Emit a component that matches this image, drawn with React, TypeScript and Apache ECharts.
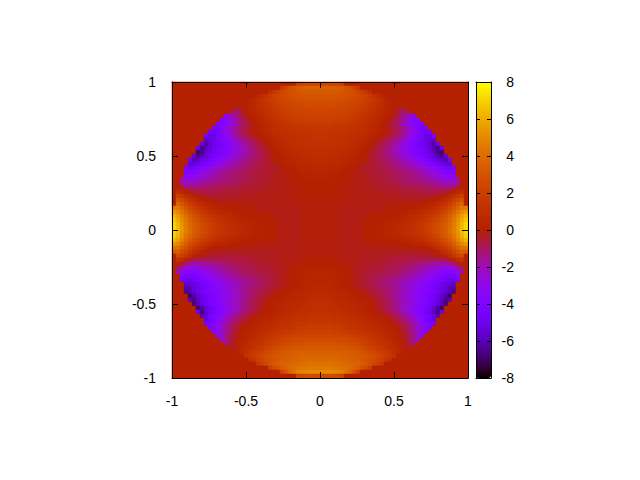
import React, { useEffect, useRef } from "react";
import * as echarts from "echarts";

// Each row runs from the circle's edge to the centre column; cells further out are 0.
// Top half, from the top of the plot down to the equator.
const TOP_ROWS: number[][] = [
[2.0,2.2,2.3,2.3,2.3,2.3],
[1.6,2.2,2.8,3.1,3.3,3.4,3.5,3.6,3.6,3.6],
[1.0,1.5,2.0,2.4,2.7,2.9,3.0,3.1,3.2,3.3,3.3,3.3,3.3],
[.5,.9,1.3,1.7,2.0,2.3,2.5,2.7,2.8,2.9,3.0,3.0,3.1,3.1,3.1,3.1],
[.2,.5,.9,1.2,1.5,1.8,2.0,2.2,2.4,2.5,2.6,2.7,2.8,2.8,2.9,2.9,2.9,2.9],
[0,.2,.5,.8,1.1,1.4,1.6,1.8,2.0,2.2,2.3,2.4,2.5,2.6,2.6,2.7,2.7,2.7,2.7],
[-.5,-.2,.1,.3,.5,.8,1.0,1.3,1.5,1.7,1.9,2.0,2.1,2.2,2.3,2.4,2.4,2.5,2.5,2.5,2.5],
[-1.4,-.9,-.5,-.1,.2,.4,.6,.9,1.1,1.3,1.5,1.7,1.8,2.0,2.1,2.2,2.2,2.3,2.3,2.3,2.4,2.4],
[-3.5,-2.4,-1.8,-1.2,-.7,-.3,0,.3,.5,.7,.9,1.1,1.3,1.5,1.7,1.8,1.9,2.0,2.1,2.1,2.2,2.2,2.2,2.2],
[-4.0,-3.5,-2.8,-2.1,-1.5,-1.0,-.5,-.2,.1,.3,.6,.8,1.0,1.2,1.3,1.5,1.6,1.8,1.9,1.9,2.0,2.0,2.0,2.1,2.1],
[-4.2,-4.0,-3.6,-3.0,-2.4,-1.8,-1.2,-.8,-.4,-.1,.2,.4,.6,.8,1.0,1.2,1.4,1.5,1.6,1.7,1.7,1.7,1.7,1.8,1.8,1.8],
[-4.3,-4.2,-3.7,-3.0,-2.4,-1.8,-1.3,-.9,-.6,-.3,-.1,.1,.3,.5,.7,.9,1.0,1.1,1.2,1.3,1.4,1.4,1.5,1.5,1.6,1.6,1.6],
[-4.5,-4.8,-4.5,-3.8,-3.2,-2.5,-1.8,-1.3,-.9,-.6,-.3,-.1,.1,.3,.5,.7,.9,1.0,1.1,1.2,1.2,1.3,1.3,1.4,1.4,1.4,1.5,1.5],
[-4.2,-5.2,-5.0,-4.5,-4.0,-3.4,-2.8,-2.1,-1.6,-1.2,-.9,-.6,-.3,-.1,.1,.3,.5,.7,.8,.9,1.0,1.1,1.2,1.2,1.3,1.3,1.3,1.4,1.4],
[-5.6,-5.4,-5.0,-4.5,-4.0,-3.5,-2.9,-2.4,-1.9,-1.5,-1.2,-.9,-.6,-.4,-.2,0,.2,.4,.6,.7,.8,.9,1.0,1.1,1.1,1.2,1.2,1.3,1.3],
[-5.2,-6.2,-5.6,-5.0,-4.6,-4.3,-3.9,-3.5,-3.0,-2.6,-2.1,-1.7,-1.3,-1.0,-.7,-.4,-.2,.1,.3,.5,.6,.8,.9,1.0,1.1,1.1,1.2,1.2,1.2,1.2],
[-5.0,-6.6,-6.0,-5.4,-4.9,-4.5,-4.2,-3.8,-3.4,-3.0,-2.6,-2.2,-1.8,-1.4,-1.1,-.8,-.6,-.3,-.1,.1,.3,.5,.7,.8,.9,1.0,1.0,1.1,1.1,1.1,1.1],
[-6.9,-6.4,-5.8,-5.2,-4.8,-4.4,-4.1,-3.7,-3.3,-2.9,-2.5,-2.2,-1.8,-1.5,-1.2,-.9,-.7,-.5,-.2,0,.2,.4,.5,.7,.8,.8,.9,.9,1.0,1.0,1.0],
[-5.5,-6.6,-6.0,-5.4,-4.9,-4.5,-4.2,-3.9,-3.5,-3.1,-2.7,-2.4,-2.1,-1.8,-1.5,-1.2,-1.0,-.8,-.6,-.3,-.1,.1,.3,.4,.5,.6,.7,.8,.8,.8,.9,.9],
[-4.6,-6.0,-5.8,-5.3,-4.9,-4.4,-4.0,-3.6,-3.2,-2.9,-2.5,-2.2,-1.9,-1.7,-1.4,-1.2,-1.0,-.8,-.7,-.5,-.3,-.2,0,.2,.3,.4,.5,.6,.7,.7,.7,.8,.8],
[-5.4,-5.3,-5.0,-4.6,-4.2,-3.8,-3.4,-3.0,-2.7,-2.4,-2.1,-1.9,-1.7,-1.5,-1.3,-1.1,-.9,-.8,-.7,-.5,-.4,-.2,-.1,.1,.2,.3,.4,.5,.6,.6,.6,.7,.7],
[-4.2,-4.7,-4.6,-4.2,-3.8,-3.4,-3.0,-2.7,-2.4,-2.1,-1.9,-1.7,-1.5,-1.4,-1.2,-1.1,-1.0,-.8,-.7,-.6,-.5,-.5,-.4,-.3,-.1,0,.1,.2,.3,.4,.5,.5,.6,.6],
[-4.0,-4.0,-3.8,-3.5,-3.1,-2.8,-2.5,-2.2,-2.0,-1.8,-1.6,-1.4,-1.3,-1.2,-1.0,-.9,-.8,-.7,-.6,-.5,-.5,-.4,-.4,-.3,-.2,-.1,0,.1,.2,.3,.3,.4,.4,.4],
[-3.5,-3.4,-3.2,-2.9,-2.6,-2.3,-2.1,-1.8,-1.6,-1.5,-1.3,-1.2,-1.1,-1.0,-.9,-.8,-.7,-.6,-.5,-.5,-.4,-.4,-.3,-.3,-.2,-.1,-.1,0,.1,.2,.2,.3,.3,.3],
[-2.3,-2.8,-2.7,-2.6,-2.4,-2.2,-2.0,-1.8,-1.6,-1.5,-1.4,-1.3,-1.2,-1.1,-1.0,-.9,-.8,-.7,-.6,-.5,-.5,-.4,-.3,-.3,-.2,-.2,-.1,-.1,0,0,.1,.1,.2,.2,.2],
[-1.4,-1.9,-2.0,-2.0,-1.8,-1.7,-1.5,-1.4,-1.3,-1.2,-1.1,-1.0,-1.0,-.9,-.8,-.7,-.7,-.6,-.5,-.5,-.4,-.4,-.3,-.3,-.2,-.2,-.2,-.1,-.1,0,0,0,.1,.1,.1],
[.1,-.4,-.9,-1.1,-1.2,-1.2,-1.1,-1.0,-.9,-.9,-.8,-.8,-.7,-.7,-.7,-.6,-.6,-.5,-.5,-.4,-.4,-.4,-.3,-.3,-.3,-.2,-.2,-.2,-.1,-.1,-.1,0,0,0,0,.1],
[.9,.6,.2,-.2,-.5,-.7,-.7,-.7,-.7,-.7,-.6,-.6,-.6,-.5,-.5,-.5,-.4,-.4,-.4,-.3,-.3,-.3,-.3,-.2,-.2,-.2,-.2,-.1,-.1,-.1,-.1,0,0,0,0,0],
[2.0,1.6,1.1,.6,.2,-.1,-.3,-.4,-.4,-.4,-.4,-.4,-.4,-.4,-.4,-.4,-.3,-.3,-.3,-.3,-.2,-.2,-.2,-.2,-.2,-.2,-.2,-.1,-.1,-.1,-.1,-.1,-.1,0,0,0],
[2.9,2.4,1.8,1.3,.9,.5,.2,0,-.1,-.2,-.3,-.3,-.3,-.3,-.2,-.2,-.2,-.2,-.2,-.2,-.2,-.2,-.2,-.2,-.2,-.2,-.2,-.2,-.1,-.1,-.1,-.1,-.1,-.1,-.1,-.1],
[3.7,3.2,2.5,1.9,1.5,1.1,.8,.5,.3,.1,0,-.1,-.1,-.1,-.1,-.1,-.1,-.1,-.1,-.1,-.2,-.2,-.2,-.2,-.2,-.2,-.2,-.2,-.2,-.2,-.1,-.1,-.1,-.1,-.1,-.1],
[4.4,4.4,3.8,3.1,2.5,2.0,1.6,1.3,1.0,.7,.5,.3,.2,.1,0,0,-.1,-.1,-.1,-.1,-.2,-.2,-.2,-.2,-.2,-.2,-.2,-.2,-.2,-.2,-.2,-.2,-.1,-.1,-.1,-.1,-.1],
[5.4,5.0,4.3,3.6,3.0,2.5,2.1,1.7,1.4,1.1,.9,.7,.5,.4,.3,.2,.1,.1,0,0,0,-.1,-.1,-.1,-.1,-.2,-.2,-.2,-.2,-.2,-.2,-.2,-.1,-.1,-.1,-.1,-.1],
[6.2,5.6,4.8,4.1,3.4,2.9,2.5,2.1,1.8,1.5,1.2,1.0,.9,.7,.6,.4,.3,.2,.2,.1,.1,0,0,0,-.1,-.2,-.2,-.2,-.2,-.2,-.2,-.2,-.1,-.1,-.1,-.1,-.1],
[6.7,6.0,5.1,4.4,3.7,3.2,2.8,2.4,2.1,1.8,1.5,1.3,1.1,.9,.8,.6,.5,.4,.3,.2,.2,.1,.1,0,0,-.1,-.2,-.2,-.2,-.2,-.2,-.2,-.1,-.1,-.1,-.1,-.1],
[7.0,6.3,5.3,4.5,3.9,3.4,3.0,2.6,2.3,2.0,1.7,1.5,1.3,1.1,.9,.8,.7,.5,.4,.3,.2,.2,.1,.1,0,0,-.1,-.2,-.2,-.2,-.2,-.2,-.1,-.1,-.1,-.1,-.1],
[7.1,6.4,5.4,4.6,4.0,3.5,3.1,2.7,2.4,2.1,1.8,1.6,1.4,1.2,1.0,.9,.8,.6,.5,.4,.3,.2,.2,.1,0,0,-.1,-.2,-.2,-.2,-.2,-.2,-.1,-.1,-.1,-.1,-.1],
];

// Bottom half, from the equator down to the bottom of the plot.
const BOTTOM_ROWS: number[][] = [
[7.1,6.4,5.4,4.6,4.0,3.5,3.1,2.7,2.4,2.1,1.8,1.6,1.4,1.2,1.0,.9,.8,.6,.5,.4,.3,.2,.2,.1,0,0,-.1,-.2,-.2,-.2,-.2,-.2,-.1,-.1,-.1,-.1,-.1],
[6.9,6.2,5.2,4.4,3.8,3.3,2.9,2.5,2.2,1.9,1.6,1.4,1.2,1.0,.9,.8,.6,.5,.4,.3,.2,.2,.1,.1,0,0,-.1,-.2,-.2,-.2,-.2,-.2,-.1,-.1,-.1,-.1,-.1],
[6.3,5.7,4.8,4.0,3.4,2.9,2.5,2.1,1.8,1.5,1.2,1.0,.9,.7,.6,.4,.3,.2,.2,.1,.1,0,0,0,-.1,-.1,-.2,-.2,-.2,-.2,-.2,-.2,-.1,-.1,-.1,-.1,-.1],
[5.4,5.0,4.2,3.5,2.9,2.4,2.0,1.6,1.2,.9,.7,.5,.4,.3,.2,.1,.1,0,0,0,-.1,-.1,-.1,-.1,-.1,-.2,-.2,-.2,-.2,-.2,-.2,-.2,-.1,-.1,-.1,-.1,-.1],
[4.2,4.2,3.5,2.9,2.3,1.8,1.3,1.0,.6,.3,.1,0,0,-.1,-.1,-.1,-.1,-.2,-.2,-.2,-.2,-.2,-.2,-.2,-.2,-.2,-.2,-.2,-.2,-.2,-.2,-.2,-.1,-.1,-.1,-.1,-.1],
[3.2,3.4,2.8,2.2,1.6,1.1,.7,.3,.1,-.1,-.2,-.2,-.3,-.3,-.3,-.3,-.3,-.3,-.3,-.3,-.3,-.3,-.3,-.3,-.3,-.3,-.2,-.2,-.2,-.2,-.2,-.2,-.2,-.2,-.1,-.1,-.1],
[2.5,2.1,1.5,.9,.4,.1,-.2,-.3,-.4,-.5,-.5,-.5,-.5,-.5,-.5,-.5,-.4,-.4,-.4,-.4,-.3,-.3,-.3,-.3,-.3,-.3,-.2,-.2,-.2,-.2,-.2,-.1,-.1,-.1,-.1,-.1],
[1.3,.9,.3,-.3,-.8,-.9,-.9,-.9,-.9,-.9,-.8,-.8,-.8,-.7,-.7,-.7,-.6,-.6,-.5,-.5,-.4,-.4,-.4,-.3,-.3,-.3,-.3,-.2,-.2,-.2,-.2,-.1,-.1,0,0,0],
[.3,-.4,-1.2,-1.7,-1.8,-1.8,-1.7,-1.6,-1.5,-1.4,-1.3,-1.2,-1.1,-1.0,-.9,-.8,-.8,-.7,-.7,-.6,-.5,-.5,-.4,-.4,-.3,-.3,-.3,-.2,-.2,-.2,-.1,0,0,.1,.1,.1],
[-.8,-1.6,-2.4,-2.8,-2.9,-2.8,-2.6,-2.4,-2.2,-2.0,-1.8,-1.6,-1.4,-1.3,-1.1,-1.0,-.9,-.8,-.8,-.7,-.6,-.5,-.5,-.4,-.4,-.3,-.3,-.2,-.1,0,.1,.1,.2,.2,.2,.2],
[-2.0,-2.9,-3.5,-3.8,-3.7,-3.4,-3.1,-2.8,-2.6,-2.3,-2.1,-1.9,-1.7,-1.5,-1.3,-1.2,-1.0,-.9,-.8,-.8,-.7,-.6,-.6,-.5,-.4,-.4,-.3,-.2,-.1,.1,.2,.2,.3,.3,.3,.3],
[-3.6,-4.3,-4.4,-4.3,-4.0,-3.7,-3.4,-3.1,-2.9,-2.6,-2.4,-2.1,-1.9,-1.7,-1.5,-1.3,-1.2,-1.1,-1.0,-.9,-.8,-.7,-.6,-.5,-.4,-.3,-.2,-.1,0,.1,.2,.3,.3,.4,.4],
[-4.6,-5.0,-4.9,-4.6,-4.3,-4.0,-3.7,-3.4,-3.1,-2.9,-2.6,-2.4,-2.1,-1.9,-1.7,-1.5,-1.4,-1.2,-1.1,-1.0,-.9,-.7,-.6,-.5,-.4,-.3,-.2,-.1,0,.1,.2,.3,.4,.4,.4],
[-5.6,-5.5,-5.2,-4.8,-4.5,-4.2,-3.8,-3.5,-3.3,-3.0,-2.7,-2.5,-2.3,-2.0,-1.8,-1.6,-1.5,-1.3,-1.2,-1.0,-.9,-.7,-.6,-.4,-.3,-.2,-.1,0,.1,.2,.3,.4,.5,.5],
[-6.2,-5.9,-5.4,-5.0,-4.7,-4.3,-4.0,-3.7,-3.4,-3.1,-2.8,-2.6,-2.3,-2.0,-1.7,-1.4,-1.2,-1.0,-.9,-.8,-.7,-.6,-.5,-.3,-.2,-.1,0,.1,.2,.3,.4,.5,.6,.6],
[-6.6,-6.1,-5.5,-5.0,-4.7,-4.3,-4.0,-3.7,-3.4,-3.1,-2.8,-2.6,-2.3,-2.0,-1.7,-1.4,-1.2,-1.0,-.9,-.7,-.5,-.4,-.2,-.1,0,.1,.2,.3,.4,.5,.6,.6,.7,.7],
[-6.9,-6.2,-5.6,-5.1,-4.7,-4.3,-4.0,-3.7,-3.3,-3.0,-2.7,-2.4,-2.1,-1.8,-1.5,-1.2,-1.0,-.8,-.6,-.4,-.3,-.1,0,.1,.2,.3,.4,.5,.5,.6,.7,.8,.8],
[-6.0,-6.6,-5.7,-5.2,-4.7,-4.3,-4.0,-3.6,-3.3,-2.9,-2.6,-2.3,-2.0,-1.7,-1.4,-1.1,-.9,-.7,-.5,-.3,-.1,0,.1,.2,.3,.4,.5,.6,.6,.7,.8,.9,.9],
[-6.8,-6.0,-5.3,-4.8,-4.4,-4.0,-3.6,-3.3,-2.9,-2.5,-2.2,-1.9,-1.5,-1.2,-1.0,-.7,-.5,-.3,-.1,.1,.2,.3,.4,.5,.6,.7,.7,.8,.9,.9,1.0,1.0],
[-6.9,-6.2,-5.4,-4.9,-4.4,-4.0,-3.6,-3.2,-2.8,-2.4,-2.0,-1.7,-1.3,-1.0,-.7,-.5,-.3,-.1,.1,.2,.3,.5,.6,.6,.7,.8,.9,.9,1.0,1.0,1.0],
[-5.0,-6.6,-5.8,-5.0,-4.5,-4.0,-3.6,-3.1,-2.7,-2.3,-1.9,-1.5,-1.2,-.9,-.6,-.4,-.2,0,.2,.3,.4,.5,.6,.7,.8,.9,1.0,1.0,1.1,1.1,1.1],
[-6.2,-5.2,-4.6,-4.1,-3.6,-3.1,-2.6,-2.1,-1.6,-1.3,-1.0,-.7,-.4,-.2,0,.1,.3,.4,.5,.6,.7,.8,.9,1.0,1.1,1.2,1.2,1.3,1.3,1.3],
[-5.4,-4.7,-4.2,-3.6,-3.0,-2.4,-1.9,-1.4,-1.0,-.7,-.4,-.2,0,.2,.3,.4,.5,.6,.8,.9,1.0,1.1,1.2,1.3,1.4,1.4,1.5,1.5,1.5],
[-4.4,-4.2,-3.7,-3.1,-2.4,-1.8,-1.3,-.9,-.6,-.3,-.1,.1,.2,.3,.5,.6,.7,.8,1.0,1.1,1.2,1.3,1.4,1.5,1.6,1.6,1.7,1.7,1.7],
[-4.2,-3.7,-3.0,-2.3,-1.7,-1.2,-.8,-.4,-.1,.1,.2,.4,.5,.7,.8,.9,1.1,1.2,1.3,1.4,1.5,1.6,1.7,1.8,1.8,1.9,1.9,1.9],
[-3.8,-3.0,-2.2,-1.6,-1.1,-.6,-.3,0,.2,.3,.5,.7,.8,1.0,1.1,1.3,1.4,1.5,1.6,1.7,1.8,1.9,2.0,2.0,2.1,2.1,2.1],
[-3.2,-2.3,-1.5,-.9,-.5,-.2,.1,.3,.5,.7,.9,1.1,1.3,1.5,1.6,1.8,1.9,2.0,2.1,2.2,2.3,2.3,2.4,2.4,2.4,2.4],
[-2.3,-1.5,-.9,-.4,0,.2,.4,.6,.8,1.0,1.2,1.5,1.7,1.9,2.0,2.2,2.3,2.4,2.5,2.6,2.6,2.7,2.7,2.7,2.7],
[-1.4,-.7,-.2,.2,.4,.6,.9,1.1,1.3,1.5,1.7,1.9,2.1,2.3,2.5,2.6,2.7,2.8,2.9,2.9,3.0,3.0,3.0,3.0],
[-.4,.1,.5,.8,1.0,1.3,1.6,1.8,2.0,2.2,2.4,2.6,2.8,2.9,3.0,3.1,3.2,3.2,3.3,3.3,3.3,3.3],
[.3,.7,1.0,1.4,1.7,1.9,2.1,2.4,2.6,2.8,3.0,3.1,3.2,3.3,3.4,3.4,3.5,3.5,3.5,3.5,3.5],
[1.2,1.6,1.9,2.2,2.5,2.7,2.9,3.1,3.2,3.3,3.4,3.5,3.6,3.6,3.7,3.7,3.7,3.7,3.7],
[1.0,1.5,2.0,2.3,2.6,2.8,3.0,3.2,3.4,3.5,3.6,3.7,3.8,3.8,3.9,3.9,3.9,3.9],
[1.5,2.0,2.5,2.9,3.2,3.4,3.6,3.7,3.8,3.9,4.0,4.1,4.1,4.2,4.2,4.2],
[2.0,2.6,3.0,3.4,3.7,3.9,4.1,4.2,4.3,4.3,4.4,4.4,4.4],
[2.2,3.0,3.7,4.2,4.6,4.8,4.9,5.0,5.0,5.0],
[2.2,2.4,2.6,2.6,2.6,2.6],
];

const X_TICKS_RANGE = [-1, 1];
const CB_RANGE = [-8, 8];
const HALF = 37;

function buildCells(): [number, number, number][] {
  const full = (row: number[]) => [...new Array(Math.max(0, HALF - row.length)).fill(0), ...row].slice(-HALF);
  const all = [...TOP_ROWS, ...BOTTOM_ROWS].map(full);
  const cells: [number, number, number][] = [];
  all.forEach((r, j) => {
    const whole = [...r, ...[...r].reverse()];
    whole.forEach((v, i) => cells.push([i, j, v]));
  });
  return cells;
}

function paletteStops(): string[] {
  const out: string[] = [];
  for (let k = 0; k <= 64; k++) {
    const x = k / 64;
    const r = Math.sqrt(x);
    const g = x * x * x;
    const b = Math.max(0, Math.sin(2 * Math.PI * x));
    out.push(`rgb(${Math.round(r * 255)},${Math.round(g * 255)},${Math.round(b * 255)})`);
  }
  return out;
}

export default function App() {
  const ref = useRef<HTMLDivElement>(null);
  useEffect(() => {
    const chart = echarts.init(ref.current!, undefined, { renderer: "svg" });
    const idx = Array.from({ length: HALF * 2 }, (_, i) => String(i));
    const font = { fontFamily: "Liberation Sans", fontSize: 14, color: "#000" };
    const line = { show: true, onZero: false, lineStyle: { color: "#000", width: 1 } };
    const tick = { show: true, inside: true, length: 6, lineStyle: { color: "#000", width: 1 } };
    const hidden = { show: false };
    const valueAxis = (gridIndex: number, position: string, range: number[], interval: number, labelled: boolean, margin = 16, ticks = true) => ({
      type: "value", gridIndex, position, min: range[0], max: range[1], interval, z: 6,
      axisLine: line, splitLine: hidden,
      axisTick: ticks ? tick : hidden,
      axisLabel: labelled ? { show: true, margin, ...font } : hidden,
    });
    chart.setOption({
      animation: false,
      grid: [
        { left: 172, top: 82, width: 296, height: 296 },
        { left: 172, top: 82, width: 296, height: 296 },
        { left: 476, top: 82, width: 15, height: 296 },
      ],
      xAxis: [
        { type: "category", gridIndex: 0, data: idx, show: false },
        valueAxis(1, "bottom", X_TICKS_RANGE, 0.5, true),
        valueAxis(1, "top", X_TICKS_RANGE, 0.5, false),
        valueAxis(2, "bottom", [0, 1], 1, false, 0, false),
        valueAxis(2, "top", [0, 1], 1, false, 0, false),
      ],
      yAxis: [
        { type: "category", gridIndex: 0, data: idx, show: false, inverse: true },
        valueAxis(1, "left", X_TICKS_RANGE, 0.5, true),
        valueAxis(1, "right", X_TICKS_RANGE, 0.5, false),
        { ...valueAxis(2, "left", CB_RANGE, 2, false), axisTick: { ...tick, length: 4 } },
        { ...valueAxis(2, "right", CB_RANGE, 2, true, 23), axisTick: { ...tick, length: 4 },
          axisLabel: { show: true, margin: 23, align: "right", ...font } },
      ],
      visualMap: {
        type: "continuous", min: -8, max: 8, seriesIndex: 0, calculable: false,
        left: 476, top: 82, itemWidth: 15, itemHeight: 296, padding: 0, text: ["", ""], textGap: 0,
        inRange: { color: paletteStops() }, realtime: false, hoverLink: false,
      },
      series: [{
        type: "heatmap", xAxisIndex: 0, yAxisIndex: 0, data: buildCells(), progressive: 0, silent: true,
      }],
    });
    return () => chart.dispose();
  }, []);
  return <div ref={ref} style={{ position: "absolute", left: 0, top: 0, width: 640, height: 480 }} />;
}
